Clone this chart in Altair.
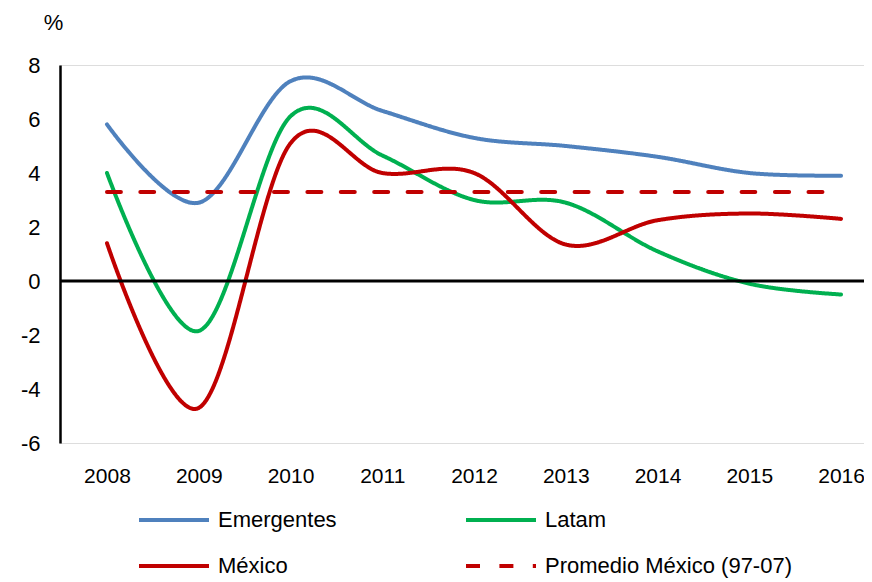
import altair as alt
import pandas as pd

years = [2008, 2009, 2010, 2011, 2012, 2013, 2014, 2015, 2016]
emergentes = [5.8, 2.9, 7.4, 6.3, 5.3, 5.0, 4.6, 4.0, 3.9]
latam = [4.0, -1.85, 6.1, 4.65, 3.0, 2.9, 1.1, -0.1, -0.5]
mexico = [1.4, -4.7, 5.1, 4.0, 4.0, 1.35, 2.25, 2.5, 2.3]
promedio = [3.3, 3.3, 3.3, 3.3, 3.3, 3.3, 3.3, 3.3, 3.3]

series_names = ["Emergentes", "Latam", "México", "Promedio México (97-07)"]
series_values = [emergentes, latam, mexico, promedio]
colors = ["#4F81BD", "#00B050", "#C00000", "#C00000"]
dashes = [[1, 0], [1, 0], [1, 0], [14, 19.4]]
y_ticks = [-6, -4, -2, 0, 2, 4, 6, 8]

rows = []
for name, vals in zip(series_names, series_values):
    for yr, v in zip(years, vals):
        rows.append({"year": yr, "value": v, "series": name})
df = pd.DataFrame(rows)

FONT = "Liberation Sans, Arial, sans-serif"
FS = 22

legend = alt.Legend(
    title=None, orient="none", legendX=77, legendY=440, columns=2, direction="horizontal",
    symbolType="stroke", symbolSize=4900, symbolStrokeWidth=4,
    labelFontSize=FS, labelFont=FONT, labelColor="black", labelOffset=7,
    columnPadding=127, rowPadding=16, clipHeight=30, labelLimit=400, padding=0,
)

lines = alt.Chart(df).mark_line(strokeWidth=4, interpolate="cardinal", strokeCap="round").encode(
    x=alt.X("year:Q",
            scale=alt.Scale(domain=[2007.488, 2016.25], nice=False, zero=False),
            axis=alt.Axis(values=years, format="d", grid=False, domain=False, ticks=False,
                          labelPadding=22, labelFontSize=21, labelFont=FONT, labelColor="black",
                          title=None)),
    y=alt.Y("value:Q",
            scale=alt.Scale(domain=[-6, 8], nice=False, zero=False),
            axis=alt.Axis(values=y_ticks, grid=False, ticks=False, domainColor="black",
                          domainWidth=2.5, labelPadding=20, labelFontSize=FS, labelFont=FONT,
                          labelColor="black", labelExpr="'' + datum.value",
                          title="%", titleAngle=0, titleX=-7, titleY=-43,
                          titleAlign="center", titleBaseline="middle", titleFont=FONT,
                          titleFontSize=FS, titleFontWeight="normal", titleColor="black")),
    color=alt.Color("series:N", scale=alt.Scale(domain=series_names, range=colors), legend=legend),
    strokeDash=alt.StrokeDash("series:N", scale=alt.Scale(domain=series_names, range=dashes), legend=legend),
)

zero_df = pd.DataFrame({"zero": [0]})
rule = alt.Chart(zero_df).mark_rule(color="black", strokeWidth=3).encode(y="zero:Q")

chart = alt.layer(lines, rule).properties(
    width=804, height=378,
    padding={"left": 52, "top": 57, "right": 0, "bottom": 145},
    autosize=alt.AutoSizeParams(type="none"),
).configure_view(stroke=None).configure(font=FONT)

chart.save("out.html", embed_options={"renderer": "svg", "actions": False})
